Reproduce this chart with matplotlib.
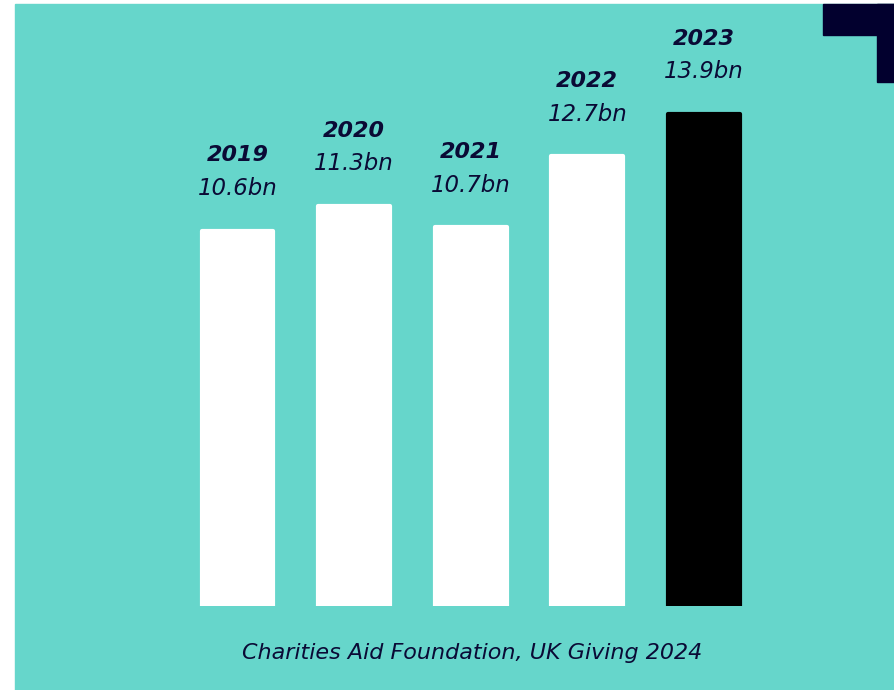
import matplotlib.pyplot as plt
import matplotlib.patches as mpatches

# UK giving totals (GBP bn)
years = ["2019", "2020", "2021", "2022", "2023"]
totals = [10.6, 11.3, 10.7, 12.7, 13.9]
value_labels = ["10.6bn", "11.3bn", "10.7bn", "12.7bn", "13.9bn"]
source = "Charities Aid Foundation, UK Giving 2024"

teal = "#66D6CB"
navy = "#0A0A35"
corner = "#02002E"

W, H = 894, 690
fig = plt.figure(figsize=(W / 100, H / 100), dpi=100)
fig.patch.set_facecolor("white")

# teal panel
fig.add_artist(mpatches.Rectangle((15 / W, 0), 1, (H - 4) / H,
                                  transform=fig.transFigure, color=teal, zorder=0))
# dark corner bracket, top right
fig.add_artist(mpatches.Rectangle((823 / W, (H - 35) / H), 1, 31 / H,
                                  transform=fig.transFigure, color=corner, zorder=1))
fig.add_artist(mpatches.Rectangle((877 / W, (H - 82) / H), 1, 78 / H,
                                  transform=fig.transFigure, color=corner, zorder=1))

# axes: bottom at bar baseline, spanning the panel
ax = fig.add_axes([15 / W, (H - 606) / H, (W - 15) / W, (606 - 4) / H])
ax.set_facecolor("none")
ax.set_xlim(-1.908, 5.63)
ax.set_ylim(0, 602 / 35.4)
ax.axis("off")

x = list(range(len(years)))
colors = ["white"] * (len(years) - 1) + ["black"]
bars = ax.bar(x, totals, width=0.615, color=colors, edgecolor=colors,
              linewidth=3, joinstyle="round", zorder=3)

for xi, v, yr, lab in zip(x, totals, years, value_labels):
    ax.annotate(lab, xy=(xi, v), xytext=(0, 22), textcoords="offset points",
                ha="center", va="bottom", fontsize=16.5, style="italic",
                color=navy, annotation_clip=False)
    ax.annotate(yr, xy=(xi, v), xytext=(0, 47), textcoords="offset points",
                ha="center", va="bottom", fontsize=16, style="italic",
                fontweight="heavy", color=navy, annotation_clip=False)

fig.text(472 / W, (H - 653) / H, source, ha="center", va="center",
         fontsize=16, style="italic", color=navy)

fig.savefig("out.png", dpi=100, facecolor=fig.get_facecolor())
